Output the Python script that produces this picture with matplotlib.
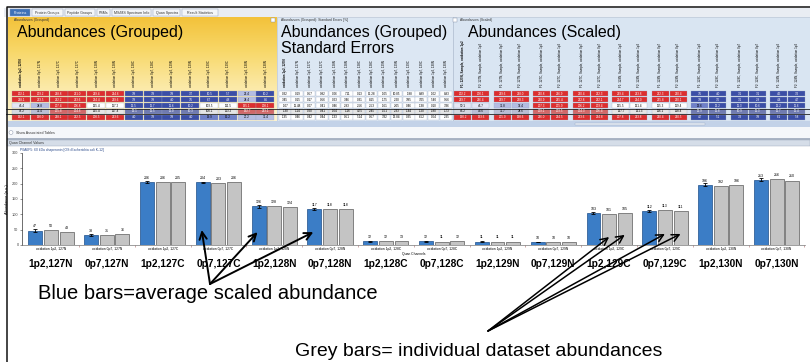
import numpy as np
import matplotlib.pyplot as plt
from matplotlib.patches import Rectangle
from matplotlib.colors import LinearSegmentedColormap, to_rgb

plt.rcParams['font.family'] = ['Liberation Sans', 'DejaVu Sans']

# bar chart data
channels = ['1p2,127N', '0p7,127N', '1p2,127C', '0p7,127C', '1p2,128N', '0p7,128N',
            '1p2,128C', '0p7,128C', '1p2,129N', '0p7,129N', '1p2,129C', '0p7,129C',
            '1p2,130N', '0p7,130N']
avg_scaled = [47, 33, 206, 204, 126, 117, 12, 12, 11, 10, 103, 112, 196, 213]
avg_err = [4, 3, 3, 3, 4, 3, 1, 1, 1, 1, 3, 3, 5, 5]
dataset_a = [50, 31, 206, 203, 128, 118, 12, 11, 11, 10, 101, 113, 192, 216]
dataset_b = [43, 36, 205, 206, 124, 118, 13, 12, 11, 10, 105, 111, 196, 210]

tabs = ['Proteins', 'Protein Groups', 'Peptide Groups', 'PSMs',
        'MS/MS Spectrum Info', 'Quan Spectra', 'Result Statistics']

# table: Abundances (Grouped), 5 proteins x 14 channels
grouped = [
    [202.1, 203.2, 218.8, 221.0, 219.4, 214.6, 3.8, 3.9, 3.8, 3.7, 10.5, 5.7, 22.4, 10.2],
    [218.1, 223.5, 212.2, 213.6, 224.4, 219.6, 3.9, 3.8, 4.0, 3.5, 6.7, 4.8, 24.4, 8.5],
    [46.4, 34.8, 207.4, 206.8, 125.4, 117.2, 12.5, 11.7, 11.6, 10.2, 103.5, 111.5, 195.1, 208.1],
    [47.2, 32.4, 205.8, 204.6, 125.4, 117.4, 12.1, 11.5, 11.0, 10.3, 100.1, 113.2, 192.7, 213.1],
    [192.1, 190.0, 218.1, 222.5, 208.5, 213.6, 4.0, 3.9, 3.8, 4.0, 19.9, 15.2, 27.2, 31.4],
]
# Standard errors (%)
std_err = [
    [0.32, 0.19, 0.57, 0.82, 0.06, 7.11, 0.13, 15.28, 1.05, 10.85, 1.88, 8.89, 1.02, 8.93],
    [3.45, 0.15, 0.17, 0.56, 0.23, 3.46, 0.31, 8.15, 1.75, 2.20, 3.85, 7.05, 5.40, 9.56],
    [1.07, 11.48, 0.07, 0.41, 0.46, 2.93, 2.56, 2.53, 1.61, 2.05, 0.46, 1.38, 0.10, 3.36],
    [1.30, 1.14, 0.20, 0.41, 1.64, 1.16, 4.75, 2.45, 1.51, 2.33, 1.44, 1.20, 1.80, 1.73],
    [1.35, 0.46, 0.42, 0.44, 1.33, 0.51, 5.24, 0.57, 3.32, 13.84, 0.35, 6.52, 0.64, 2.35],
]
# Abundances (Scaled), first 18 sample columns visible
scaled = [
    [202.2, 200.1, 219.6, 218.0, 220.8, 216.9, 220.4, 222.3, 219.4, 213.8, 222.3, 220.4, 3.5, 4.0, 3.1, 3.1, 4.5, 3.2],
    [219.7, 216.4, 229.7, 228.3, 210.9, 215.4, 222.8, 222.1, 224.7, 214.0, 225.8, 220.1, 3.8, 3.6, 3.1, 2.8, 4.4, 4.7],
    [50.1, 46.7, 31.8, 37.4, 207.3, 205.9, 206.2, 203.4, 125.5, 121.4, 115.3, 119.4, 13.6, 12.2, 11.3, 10.6, 12.2, 11.6],
    [46.2, 44.6, 31.7, 34.6, 209.1, 203.5, 204.3, 206.4, 127.7, 121.3, 116.1, 118.4, 12.9, 11.8, 10.9, 11.3, 11.7, 11.4],
    [190.2, 193.6, 205.0, 198.6, 226.0, 224.5, 223.6, 224.8, 207.8, 213.8, 210.4, 210.5, 4.7, 5.1, 3.3, 3.8, 6.1, 5.8],
]
selected_row = 3


def cell_color(v):
    if v < 13:
        return '#3b4ea6'
    if v < 20:
        return '#6f80c8'
    if v < 45:
        return '#b4bde2'
    if v < 80:
        return '#e4e7f5'
    if v < 150:
        return '#ffffff'
    return '#dd2e2e'


def dim(c):
    r, g, b = to_rgb(c)
    return (0.6 * r + 0.3, 0.6 * g + 0.3, 0.6 * b + 0.3)


def draw_cells(ax, x0, cw, rows, step=None, fmt='{:.1f}', color_fn=cell_color):
    for ri, row in enumerate(rows):
        y = 91 + ri * 5.9
        for ci, v in enumerate(row):
            x = x0 + (step(ci) if step else ci * cw)
            base = color_fn(v)
            c = dim(base) if ri == selected_row else base
            ax.add_patch(Rectangle((x, y), cw - 0.8, 5.2, facecolor=c, edgecolor='#9aa6c0', lw=0.2))
            dark = base in ('#3b4ea6', '#dd2e2e')
            ax.text(x + cw / 2, y + 2.8, fmt.format(v), fontsize=2.2, ha='center', va='center',
                    color='white' if dark else 'black')


fig = plt.figure(figsize=(8.1, 3.62), dpi=100)
bg = fig.add_axes([0, 0, 1, 1])
bg.axis('off')

# --- top UI: tabs and panels ---
bg.add_patch(Rectangle((4, 8), 806, 9, facecolor='#e9edf3', edgecolor='none'))
tab_x = 10
for i, t in enumerate(tabs):
    w = len(t) * 1.75 + 6
    bg.add_patch(Rectangle((tab_x, 9), w, 7, facecolor='#3f72b8' if i == 0 else '#f4f6f9',
                           edgecolor='#8a9ab5', lw=0.3))
    bg.text(tab_x + w / 2, 12.7, t, fontsize=2.6, ha='center', va='center',
            color='white' if i == 0 else '#333333')
    tab_x += w + 2

ymap = LinearSegmentedColormap.from_list('ypanel', ['#f3c23a', '#f8d86a', '#fbe9a6', '#fdf4d2'])
bg.imshow(np.linspace(0, 1, 120).reshape(-1, 1), extent=[8, 277, 121, 17], cmap=ymap,
          aspect='auto', zorder=0.5)
bg.add_patch(Rectangle((277, 17), 176, 104, facecolor='#dce7f3', edgecolor='#a9b8cc', lw=0.4))
bg.add_patch(Rectangle((453, 17), 357, 104, facecolor='#d9e5f2', edgecolor='#a9b8cc', lw=0.4))
bg.add_patch(Rectangle((8, 121), 802, 6, facecolor='#c3d2e8', edgecolor='none'))
bg.add_patch(Rectangle((575, 123), 130, 2, facecolor='#e7edf5', edgecolor='#9aabc4', lw=0.3))

for x, lab in [(14, 'Abundances (Grouped)'), (281, 'Abundances (Grouped): Standard Errors [%]'),
               (460, 'Abundances (Scaled)')]:
    bg.text(x, 20, lab, fontsize=2.4, va='center', color='#333333')
for x in [271, 453]:
    bg.add_patch(Rectangle((x, 18), 4, 4, facecolor='white', edgecolor='#7d8ba3', lw=0.3))

bg.text(17, 37, 'Abundances (Grouped)', fontsize=11.5, va='baseline')
bg.text(281, 37, 'Abundances (Grouped)', fontsize=11.5, va='baseline')
bg.text(281, 53, 'Standard Errors', fontsize=11.5, va='baseline')
bg.text(468, 37, 'Abundances (Scaled)', fontsize=11.5, va='baseline')

# column headers
for ci, ch in enumerate(channels):
    grp, tag = ch.split(',')
    bg.text(12 + ci * 18.8 + 9.4, 87, f'oxidation {grp}, {tag}', fontsize=2.2, rotation=90,
            ha='center', va='bottom', fontweight='bold' if ci == 0 else 'normal')
    bg.text(279 + ci * 12.4 + 6.2, 87, f'oxidation {grp}, {tag}', fontsize=2.2, rotation=90,
            ha='center', va='bottom', fontweight='bold' if ci == 0 else 'normal')
for ci in range(len(scaled[0])):
    grp, tag = channels[ci // 2].split(',')
    bg.text(454 + (ci // 2) * 39.5 + (ci % 2) * 18 + 9, 87, f'F{ci % 2 + 1}: {tag}, Sample, oxidation {grp}',
            fontsize=2.2, rotation=90, ha='center', va='bottom', fontweight='bold' if ci == 0 else 'normal')

draw_cells(bg, 12, 18.8, grouped)
draw_cells(bg, 279, 12.4, std_err, fmt='{:.2f}', color_fn=lambda v: '#ffffff')
draw_cells(bg, 454, 18, scaled, step=lambda ci: (ci // 2) * 39.5 + (ci % 2) * 18)

bg.plot([6, 810], [108.6, 108.6], color='#222222', lw=0.6)
bg.plot([6, 810], [114.4, 114.4], color='#222222', lw=0.6)

bg.add_patch(Rectangle((7, 127), 803, 11, facecolor='#f5f7fa', edgecolor='none'))
bg.add_patch(plt.Circle((11, 132.5), 2, facecolor='white', edgecolor='#7d8ba3', lw=0.3))
bg.text(16, 132.5, 'Show Associated Tables', fontsize=2.6, va='center', color='#333333')
bg.add_patch(Rectangle((7, 138), 803, 2, facecolor='#aab4c4', edgecolor='none'))
bg.add_patch(Rectangle((7, 140), 803, 6, facecolor='#d5dde8', edgecolor='#9aa6b8', lw=0.3))
bg.text(9, 143, 'Quan Channel Values', fontsize=2.6, va='center', color='#333333')
bg.text(20, 150.5, 'P0A6F5: 60 kDa chaperonin [OS=Escherichia coli K-12]', fontsize=2.4,
        va='center', color='#2b4a8a')

# window frame
bg.plot([6.5, 6.5, 810], [362, 7, 7], color='#111111', lw=1.1)

bg.set_xlim(0, 810)
bg.set_ylim(362, 0)

# --- bar chart ---
ax = fig.add_axes([22 / 810, 117 / 362, 783 / 810, 92 / 362])
ax.patch.set_alpha(0)
x = np.arange(len(channels))
w = 0.25
ax.bar(x - 0.28, avg_scaled, w, color='#3b7dc6', edgecolor='#1f4f8a', lw=0.5,
       yerr=avg_err, error_kw=dict(lw=0.6, capsize=1.2, capthick=0.6, ecolor='black'))
ax.bar(x, dataset_a, w, color='#c4c4c4', edgecolor='#5a5a5a', lw=0.5)
ax.bar(x + 0.28, dataset_b, w, color='#c4c4c4', edgecolor='#5a5a5a', lw=0.5)
for vals, off in [(avg_scaled, -0.28), (dataset_a, 0), (dataset_b, 0.28)]:
    for i, v in enumerate(vals):
        ax.text(i + off, v + 7, str(v), fontsize=2.6, ha='center', va='bottom')

ax.set_xlim(-0.52, 13.51)
ax.set_ylim(0, 300)
ax.set_yticks(range(0, 301, 50))
ax.set_xticks(x + 0.5)
ax.set_xticklabels([])
ax.tick_params(axis='y', labelsize=2.8, length=1.5, width=0.4, pad=1, colors='#444444')
ax.tick_params(axis='x', length=1.5, width=0.4, colors='#aa6666')
for s in ['top', 'right']:
    ax.spines[s].set_visible(False)
ax.spines['left'].set_linewidth(0.4)
ax.spines['bottom'].set_linewidth(0.5)
ax.spines['bottom'].set_color('#777777')
ax.set_ylabel('Abundance (a.u.)', fontsize=2.8, labelpad=2)

xt = ax.get_xaxis_transform()
for i, ch in enumerate(channels):
    grp, tag = ch.split(',')
    ax.text(i, -0.045, f'oxidation {grp}, {tag}', transform=xt, fontsize=2.4, ha='center', va='center')
    ax.text(i, -0.24, ch, transform=xt, fontsize=7.3, fontweight='bold', ha='center', va='baseline')
ax.text(6.5, -0.1, 'Quan Channels', transform=xt, fontsize=2.4, ha='center', va='center')

# --- annotations ---
bg.text(38, 299, 'Blue bars=average scaled abundance', fontsize=14.5, va='baseline')
bg.text(295, 356, 'Grey bars= individual dataset abundances', fontsize=14, va='baseline')
arrow = dict(arrowstyle='->', lw=1.4, color='black', shrinkA=0, shrinkB=0, mutation_scale=13)
for gi, yv in [(3, 49), (4, 42), (5, 42)]:
    ax.annotate('', xy=(gi - 0.3, yv), xytext=(210, 284), textcoords=bg.transData, arrowprops=arrow)
for xv, yv in [(10, 26), (10.28, 33), (11, 36), (11.28, 36)]:
    ax.annotate('', xy=(xv, yv), xytext=(488, 331), textcoords=bg.transData,
                arrowprops=dict(arrow, lw=1.1))

fig.savefig('out.png', dpi=100)
